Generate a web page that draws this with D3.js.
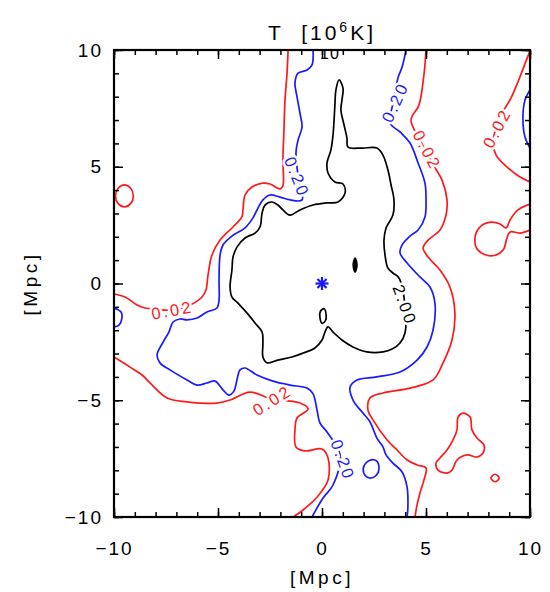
<!DOCTYPE html>
<html><head><meta charset="utf-8">
<script src="https://cdn.jsdelivr.net/npm/d3@7"></script>
<style>body{margin:0;background:#fff} svg{display:block} text{font-family:"Liberation Sans",Arial,sans-serif}</style>
</head><body>
<svg id="c" width="550" height="592"></svg>
<script>
// ---------- data (Mpc) ----------
const xTickValues = [-10, -5, 0, 5, 10];
const yTickValues = [-10, -5, 0, 5, 10];
const minorTickValues = [-10,-9,-8,-7,-6,-5,-4,-3,-2,-1,0,1,2,3,4,5,6,7,8,9,10];
const levelNames = ["0.02", "0.20", "2.00"];
const levelColors = ["#ff1a1a", "#1a1aff", "#000000"];

// level 0.02 (red)
const red02Left = [[-1.63,10],[-1.68,9.03],[-1.78,7.86],[-1.83,6.57],[-1.88,5.29],[-1.88,4.18],[-2.02,4.05],[-2.5,4.26],[-2.84,4.3],[-3.37,4.13],[-3.7,3.79],[-3.8,3.15],[-3.85,2.85],[-4.28,2.42],[-4.9,1.86],[-5.29,1.22],[-5.48,0.36],[-5.58,-0.28],[-5.77,-0.58],[-6.4,-0.95],[-7.2,-1.14],[-8.0,-1.1],[-8.51,-1.05],[-8.89,-0.92],[-9.47,-0.58],[-10,-0.45]];
const red02LowerLeft = [[-10,-3.15],[-9.23,-3.58],[-8.65,-3.92],[-8.27,-4.26],[-7.45,-4.9],[-6.49,-5.07],[-5.87,-5.12],[-5.05,-5.12],[-4.42,-4.99],[-3.46,-4.65],[-2.4,-4.95],[-1.06,-5.12],[-0.67,-5.37],[-1.2,-5.76],[-1.3,-6.27],[-1.25,-7.0],[-0.82,-7.17],[0,-7.09],[0.29,-7.47],[0.29,-8.42],[-0.19,-9.1],[-0.91,-9.7],[-1.39,-10]];
const red02Right = [[5.0,10],[4.9,8.93],[4.66,7.64],[4.28,7.0],[4.71,6.15],[5.29,5.16],[5.77,4.43],[6.01,3.58],[5.96,2.93],[5.67,2.29],[5.1,1.86],[4.86,1.52],[5.1,1.13],[5.67,0.58],[6.15,-0.15],[6.39,-1.26],[6.25,-2.42],[5.82,-3.4],[5.34,-4.13],[4.23,-4.48],[2.93,-4.69],[2.31,-4.9],[2.21,-5.42],[2.45,-5.84],[3.13,-6.7],[3.61,-7.13],[4.09,-7.56],[4.57,-7.77],[5.0,-7.9],[4.9,-8.42],[4.71,-8.97],[4.57,-9.48],[4.47,-10]];
const red02FarRight = [[10,9.96],[9.71,9.3],[9.42,8.63],[9.09,7.95],[8.7,7.35],[8.37,6.66],[8.22,6.02],[8.37,5.5],[8.89,4.99],[9.52,4.56],[10,4.35]];
const red02RightLoop = [[10,3.4],[9.42,3.15],[9.04,2.72],[8.85,2.38],[8.56,2.55],[8.13,2.63],[7.64,2.46],[7.36,1.99],[7.5,1.43],[8.13,1.18],[8.7,1.43],[8.89,1.95],[9.04,2.21],[9.52,2.16],[10,2.29]];
const red02Circle = [[-9.07,3.75],[-9.2,4.08],[-9.5,4.22],[-9.8,4.08],[-9.93,3.75],[-9.8,3.42],[-9.5,3.28],[-9.2,3.42]];
const red02Trefoil = [[6.78,-5.55],[7.12,-5.72],[7.21,-6.27],[7.45,-6.62],[7.79,-6.92],[7.74,-7.26],[7.45,-7.43],[6.97,-7.34],[6.49,-7.56],[6.25,-7.99],[6.01,-8.12],[5.58,-7.99],[5.48,-7.69],[5.67,-7.47],[6.01,-7.13],[6.3,-6.7],[6.49,-6.27],[6.54,-5.72]];
const red02Dot = [[8.52,-8.33],[8.32,-8.17],[8.12,-8.33],[8.32,-8.49]];

// level 0.20 (blue)
const blue20Left = [[-0.43,10],[-0.48,9.36],[-0.72,9.14],[-1.15,9.01],[-1.3,8.59],[-1.2,7.99],[-1.06,7.3],[-0.96,6.7],[-1.15,6.15],[-1.25,5.63],[-1.15,4.6],[-0.96,3.58],[-1.54,3.58],[-2.02,3.7],[-2.5,3.79],[-2.84,3.58],[-3.08,3.23],[-3.32,2.81],[-3.7,2.38],[-4.33,2.03],[-4.76,1.65],[-4.9,1.22],[-4.95,0.15],[-4.95,-0.71],[-5.05,-1.05],[-5.53,-1.22],[-6.01,-1.48],[-6.49,-1.56],[-6.83,-1.52],[-7.16,-1.65],[-7.36,-2.08],[-7.64,-2.51],[-7.93,-3.06],[-7.79,-3.4],[-7.31,-3.7],[-6.49,-4.13],[-6.01,-4.35],[-5.53,-4.26],[-5.14,-4.18],[-4.76,-4.56],[-4.47,-4.78],[-4.23,-4.6],[-4.09,-4.13],[-3.94,-3.7],[-3.7,-3.62],[-3.13,-3.92],[-2.36,-4.18],[-1.54,-4.35],[-0.72,-4.48],[-0.43,-4.73],[-0.24,-5.42],[-0.1,-5.97],[0.24,-6.36],[0.87,-7.34],[0.53,-8.63],[0.05,-9.19],[-0.48,-10]];
const blue20Right = [[4.04,10],[3.85,9.27],[3.65,8.8],[3.46,7.86],[3.27,6.87],[3.75,6.49],[4.23,6.02],[4.62,5.16],[4.95,4.3],[5.0,3.58],[4.95,2.85],[4.62,2.29],[4.23,2.03],[3.85,1.65],[3.75,1.31],[4.09,0.88],[4.71,0.28],[5.19,-0.15],[5.43,-0.84],[5.34,-1.99],[5.05,-2.72],[4.57,-3.28],[3.75,-3.79],[2.64,-4.0],[1.68,-4.13],[1.35,-4.43],[1.49,-4.99],[1.97,-5.55],[2.31,-5.93],[2.64,-6.62],[2.93,-7.0],[3.08,-7.34],[3.41,-7.69],[3.85,-8.07],[4.09,-8.72],[4.13,-9.57],[4.09,-10]];
const blue20Oval = [[2.74,-7.94],[2.62,-7.6],[2.36,-7.55],[2.1,-7.7],[1.98,-7.94],[2.1,-8.25],[2.36,-8.33],[2.62,-8.2]];
const blue20LeftEdge = [[-10,-1.05],[-9.66,-1.22],[-9.62,-1.48],[-9.76,-1.78],[-10,-1.86]];
const blue20RightEdge = [[10,8.29],[9.76,7.86],[9.66,7.13],[9.76,6.27],[10,5.8]];

// level 2.00 (black)
const black200Core = [[0.82,8.72],[1.01,8.37],[0.96,7.86],[0.91,7.43],[1.06,6.79],[1.2,6.23],[1.25,5.84],[1.92,5.8],[2.64,5.8],[2.93,5.5],[3.17,4.86],[3.32,4.22],[3.46,3.58],[3.41,2.93],[3.08,2.38],[2.98,1.86],[3.03,1.22],[3.17,0.66],[3.41,0.45],[3.7,0.24],[3.99,-0.92],[3.99,-2.12],[3.75,-2.55],[3.37,-2.81],[2.93,-2.93],[2.16,-2.93],[1.49,-2.72],[0.96,-2.42],[0.53,-2.08],[0.29,-1.86],[0.14,-2.08],[0,-2.42],[-0.34,-2.76],[-0.91,-2.98],[-1.44,-3.15],[-2.12,-3.28],[-2.64,-3.4],[-2.84,-3.15],[-2.84,-2.55],[-2.88,-2.08],[-3.22,-1.69],[-3.61,-1.26],[-4.04,-0.84],[-4.33,-0.58],[-4.42,-0.15],[-4.33,0.58],[-4.28,1.13],[-4.09,1.56],[-3.7,1.95],[-3.22,2.16],[-2.98,2.42],[-2.88,3.02],[-2.74,3.36],[-2.4,3.49],[-2.12,3.36],[-1.88,3.15],[-1.54,2.93],[-1.06,3.15],[-0.43,3.36],[0.24,3.45],[0.77,3.49],[1.11,3.88],[1.01,4.26],[0.62,4.35],[0.29,4.73],[0.24,5.16],[0.43,5.72],[0.53,6.36],[0.58,7.0],[0.62,7.64],[0.67,8.29]];
const black200Blob = [[1.68,0.79],[1.59,1.09],[1.5,0.79],[1.59,0.49]];
const black200Oval = [[0.2,-1.35],[0.1,-1.08],[-0.08,-1.2],[-0.1,-1.45],[0.0,-1.7],[0.16,-1.6]];

const contours = [
  {level: 0, pts: red02Left, closed: false},
  {level: 0, pts: red02LowerLeft, closed: false},
  {level: 0, pts: red02Right, closed: false},
  {level: 0, pts: red02FarRight, closed: false},
  {level: 0, pts: red02RightLoop, closed: false},
  {level: 0, pts: red02Circle, closed: true},
  {level: 0, pts: red02Trefoil, closed: true},
  {level: 0, pts: red02Dot, closed: true},
  {level: 1, pts: blue20Left, closed: false},
  {level: 1, pts: blue20Right, closed: false},
  {level: 1, pts: blue20Oval, closed: true},
  {level: 1, pts: blue20LeftEdge, closed: false},
  {level: 1, pts: blue20RightEdge, closed: false},
  {level: 2, pts: black200Core, closed: true},
  {level: 2, pts: black200Blob, closed: true, filled: true},
  {level: 2, pts: black200Oval, closed: true}
];

// contour labels: level, position (Mpc), angle (deg)
const contourLabels = [
  {level: 0, x: -7.2, y: -1.14, angle: -10},
  {level: 0, x: -2.4, y: -5.0, angle: -32},
  {level: 0, x: 5.05, y: 5.71, angle: 62},
  {level: 0, x: 8.41, y: 6.66, angle: -62},
  {level: 1, x: -1.2, y: 4.56, angle: 68},
  {level: 1, x: 1.01, y: -7.56, angle: 70},
  {level: 1, x: 3.51, y: 7.77, angle: -65},
  {level: 2, x: 3.99, y: -0.92, angle: 70}
];
const topLabel = {text: "10", x: 0.38, y: 9.85};
const centerMark = [0, 0];

// ---------- drawing ----------
const svg = d3.select("#c");
const x = d3.scaleLinear().domain([-10, 10]).range([114, 530]);
const y = d3.scaleLinear().domain([-10, 10]).range([517, 50]);

svg.append("clipPath").attr("id", "plot").append("rect")
  .attr("x", x(-10)).attr("y", y(10)).attr("width", x(10) - x(-10)).attr("height", y(-10) - y(10));

const plot = svg.append("g").attr("clip-path", "url(#plot)");

const lineOpen = d3.line().x(d => x(d[0])).y(d => y(d[1])).curve(d3.curveCatmullRom.alpha(0.5));
const lineClosed = d3.line().x(d => x(d[0])).y(d => y(d[1])).curve(d3.curveCatmullRomClosed.alpha(0.5));

plot.selectAll("path.contour").data(contours).join("path")
  .attr("class", "contour")
  .attr("d", d => (d.closed ? lineClosed : lineOpen)(d.pts))
  .attr("fill", d => d.filled ? levelColors[d.level] : "none")
  .attr("stroke", d => levelColors[d.level])
  .attr("stroke-width", 1.7)
  .attr("stroke-linejoin", "round");

plot.selectAll("text.clab").data(contourLabels).join("text")
  .attr("class", "clab")
  .attr("transform", d => `translate(${x(d.x)},${y(d.y)}) rotate(${d.angle})`)
  .attr("text-anchor", "middle").attr("dy", "0.36em")
  .attr("font-size", 16.5).attr("letter-spacing", 2.5)
  .attr("fill", d => levelColors[d.level])
  .attr("stroke", "#fff").attr("stroke-width", 5).attr("paint-order", "stroke")
  .text(d => levelNames[d.level]);

plot.append("text")
  .attr("x", x(topLabel.x)).attr("y", y(topLabel.y)).attr("dy", "0.36em")
  .attr("text-anchor", "middle").attr("font-size", 16).attr("letter-spacing", 1)
  .attr("fill", "#000").text(topLabel.text);

// center asterisk
const cx = x(centerMark[0]), cy = y(centerMark[1]);
const ast = plot.append("g").attr("transform", `translate(${cx},${cy})`)
  .attr("stroke", "#1a1aff").attr("stroke-width", 2.2);
[[0, 1], [1, 0], [0.7, 0.7], [0.7, -0.7]].forEach(v => {
  ast.append("line").attr("x1", -6.5 * v[0]).attr("y1", -6.5 * v[1]).attr("x2", 6.5 * v[0]).attr("y2", 6.5 * v[1]);
});

// axes
const fmt = d3.format("d");
function styleAxis(g) {
  g.select(".domain").remove();
  g.selectAll(".tick line").attr("stroke", "#000").attr("stroke-width", 1.5);
  g.selectAll("text").attr("font-size", 19).attr("fill", "#000").attr("letter-spacing", 2)
    .style("font-family", '"Liberation Sans",Arial,sans-serif');
}
svg.append("g").attr("transform", `translate(0,${y(-10)})`)
  .call(d3.axisBottom(x).tickValues(minorTickValues).tickSize(-5).tickFormat("")).call(styleAxis);
svg.append("g").attr("transform", `translate(0,${y(-10)})`)
  .call(d3.axisBottom(x).tickValues(xTickValues).tickSize(-9).tickPadding(25).tickFormat(fmt)).call(styleAxis);
svg.append("g").attr("transform", `translate(0,${y(10)})`)
  .call(d3.axisTop(x).tickValues(minorTickValues).tickSize(-5).tickFormat("")).call(styleAxis);
svg.append("g").attr("transform", `translate(0,${y(10)})`)
  .call(d3.axisTop(x).tickValues(xTickValues).tickSize(-9).tickFormat("")).call(styleAxis);
svg.append("g").attr("transform", `translate(${x(-10)},0)`)
  .call(d3.axisLeft(y).tickValues(minorTickValues).tickSize(-5).tickFormat("")).call(styleAxis);
svg.append("g").attr("transform", `translate(${x(-10)},0)`)
  .call(d3.axisLeft(y).tickValues(yTickValues).tickSize(-9).tickPadding(11).tickFormat(fmt)).call(styleAxis);
svg.append("g").attr("transform", `translate(${x(10)},0)`)
  .call(d3.axisRight(y).tickValues(minorTickValues).tickSize(-5).tickFormat("")).call(styleAxis);
svg.append("g").attr("transform", `translate(${x(10)},0)`)
  .call(d3.axisRight(y).tickValues(yTickValues).tickSize(-9).tickFormat("")).call(styleAxis);

svg.append("rect")
  .attr("x", x(-10)).attr("y", y(10)).attr("width", x(10) - x(-10)).attr("height", y(-10) - y(10))
  .attr("fill", "none").attr("stroke", "#000").attr("stroke-width", 2.2);

// titles
const t = svg.append("text").attr("x", (x(-10) + x(10)) / 2).attr("y", 40)
  .attr("text-anchor", "middle").attr("font-size", 21).attr("letter-spacing", 3)
  .style("white-space", "pre");
t.append("tspan").text("T  [10");
t.append("tspan").attr("font-size", 14).attr("dy", -8).text("6");
t.append("tspan").attr("dy", 8).text("K]");

svg.append("text").attr("x", (x(-10) + x(10)) / 2).attr("y", 584)
  .attr("text-anchor", "middle").attr("font-size", 19).attr("letter-spacing", 3.5).text("[Mpc]");
svg.append("text").attr("transform", `translate(37,${y(0)}) rotate(-90)`)
  .attr("text-anchor", "middle").attr("font-size", 19).attr("letter-spacing", 3.5).text("[Mpc]");
</script>
</body></html>
